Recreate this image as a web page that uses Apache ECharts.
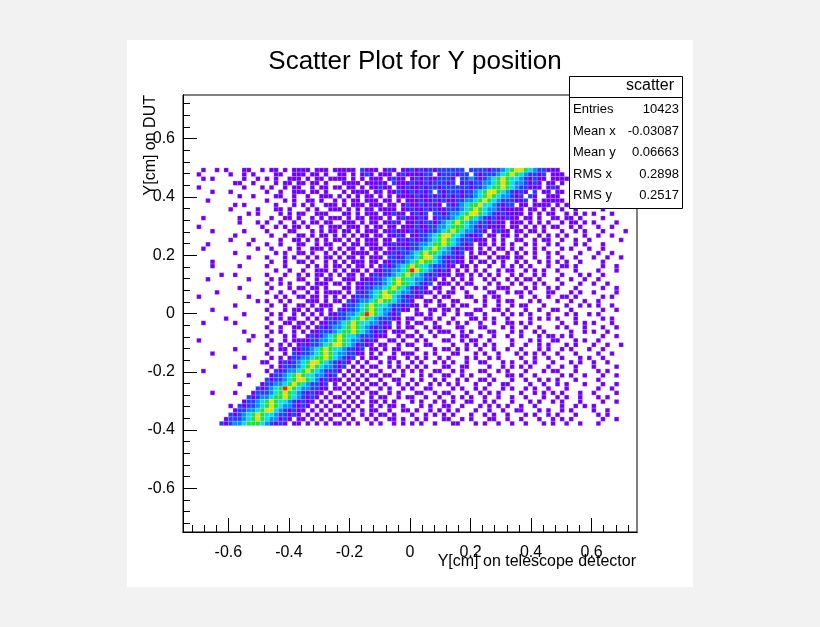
<!DOCTYPE html>
<html>
<head>
<meta charset="utf-8">
<script src="https://cdn.jsdelivr.net/npm/echarts@6/dist/echarts.min.js"></script>
<style>
  html, body { margin: 0; padding: 0; background: #f2f2f2; }
  #main { width: 820px; height: 627px; }
</style>
</head>
<body>
<div id="main"></div>
<script>
// 2D histogram, bin width 0.015; rows run from y=0.5 (top) down, columns from x=-0.72
// '.' / '0' = empty, 1..7 = count level
const binSize = 0.015;
const xStart = -0.72;
const yTop = 0.5;
// background counts, one string per row (spaces only for reading)
const bgRows = [
  "..1..1.1 ...11..1 .11.1.11 11.111.1 1111.211 1.121.11 21212122 2222.222 1212.211 2.111..1 1....... ........",
  ".1...... 1..1.1.. ..11..11 1.11.1.. 11.1.121 .111.121 11122.12 22122.22 1.11.221 1.1.21.1 11...... ........",
  "..1.1... ...1..1. 1.1..111 .1.11.11 11.1.1.1 11.1211. 12121122 21.22321 2..11.21 1..1.1.1 111..... ........",
  "........ .11..1.. ..1.11.1 1.11.1.. .1111.11 111.2111 21121222 12.12222 21..11.1 2.1.1.11 .1...... ........",
  ".1...... ...1...1 .1..1.11 ..1.11.1 1.11.1.1 1211.112 11212212 2222.232 1.12.1.1 21.11.12 1....... ........",
  "....1... 1....... 1..1..11 1.11.1.. .1.1111. 11.11211 21212.21 22221221 .1.11.2. 12.2.11. 11...... ........",
  "........ ..1..1.. ..11..1. .1..111. 1.1.1.11 .1.1.111 12112121 212122.1 1..12.21 2.21..11 1....... ........",
  "...1.... ........ 1...1.1. .11.1..1 .1.11.11 1.11.1.1 11211212 1212.211 2.1..211 12.1.111 11...... ........",
  "........ .1.1.... ..1...1. 1.1..111 .1.111.1 11.11.12 1121211. 12.2.221 .2.1112. 11.1111. 1.1..... ........",
  "........ 1.....1. ..11.1.. .1.1..11 1.1.1.11 .1111.11 21121212 2..22121 3.21.211 1.11.1.1 .1..1... ..1.....",
  "........ ....1.1. ...1.1.1 1..111.. .11.1.11 1.11211. 1212.212 22.2.1.1 12.21111 1.1.1.11 ..1.1.1. 1...1...",
  "..1..... ..1..... .1..11.1 ..1.1.11 1.1.11.1 11.1.121 1121.122 21.1.2.1 2.211211 .11.1..1 1.11.1.. ..1.....",
  "........ ..1...1. 1..1..1. 1.11.11. .111.1.1 1.1121.1 12121222 1.1.2.21 1.211.11 1.1.1.1. .1.11.1. 1....1..",
  ".1...... .......1 ..1.1.11 .1..1.11 1.111.1. 11.11.11 12121212 2.11.2.1 21111.11 .1.1.1.1 1..1.1.. .1..1...",
  "....1... ...1.... 1....11. ..1.1.11 .11.1.11 1.112111 2121212. .1.12.21 1.1211.1 1.11.1.. .1..1.1. ..1....1",
  "........ .1...... .1..1..1 1.1.11.1 .1.1.11. 11.1121. 1211212. 2.1.2111 .11.11.1 .1..1.1. 1.1...1. .1..1...",
  "........ 1....1.. ...1..11 .1.1.1.1 1.1.1.11 1.11.121 2122121. .2.11.11 1.1.1..1 1..1.11. .1..1..1 ......1.",
  "...1.... ....1... 1..1...1 1..1.11. .1.11.11 1.112112 121.2.12 2111.1.1 1.1.1.1. .1.1..1. 1...1.1. ..1.....",
  "..1..... ......1. .1...1.1 ..111.1. 1.11.1.1 11.11212 2.12.1.2 2111.1.1 .1.11.1. 1..1.1.. .1.1...1 ..1.....",
  "........ .1...... ..1.1..1 1.1..1.1 .1.1111. 1.11212. 2.1.2.12 1.11.1.1 1.1..1.1 .1.1..1. 1....1.. .1..1...",
  "........ ....1... 1...1.1. .1.1.11. 1.11.1.1 11.21212 1.21.1.2 11.1.11. .1.111.1 1..1..1. .1..1... 1..1..1.",
  "....1... ........ .1..1..1 1.1..1.1 .1.111.1 1.1.1121 2.1121.2 1.11.1.1 1.1.1..1 .1..1.1. 1.1..1.. ..1.....",
  "....1... ..1..... 1...1... .1.1.1.1 1.1.11.1 .11.1212 21.21.21 .1.11.1. .1..1.1. 1.1...1. .11.1... ..1..1..",
  "........ ........ ..1..1.. 1..111.1 .1.11.1. 1.121212 12.212.1 1.1.1.1. 1..1.11. .1.1.1.. 1...1... .1...1..",
  "......1. .1...... 1...1..1 .1.11.1. 1.11.1.1 12121112 2.1.21.1 1.11.1.1 .1.1..1. 1..1.1.. .1...1.1 ..1.....",
  "...1.... ....1... .1.1...1 1..1.11. .111.112 1212.121 2.1121.1 .1.1.1.. 1.1..1.1 .11.1... 1..1..1. .1......",
  "........ ........ 1..1.1.. .1.111.1 1.1.1121 22.21.21 2.1.2.11 1.1.11.. .1.1..1. 1..1.1.. .1...1.. 1..1....",
  "........ ..1..... .1...1.1 1.11.1.. .11.1.12 2.121.12 11.1.11. .1.1..1. 1..111.. .1.1..1. 1...1... ..1..1..",
  ".....1.. ........ 1..1..1. .1.1.111 1.1.1121 12.2.121 1..11.1. 11..1... .11..1.1 1.1...11 ...1.1.. 1....1..",
  ".1...... ....1... ..1.1..1 1.11.1.1 .1.1.12. 1.2.1221 .11..1.1 1...11.. 1.11.... 1..1..1. .11.1... ..1.1...",
  "........ ......1. 1..1.1.. .111.1.1 1.1.1121 1.21.21. 1..11.1. .11...1. 1..1.11. ..1.1... 1..1..1. .1......",
  "........ .1...... .1..1..1 1.1.111. .11.2.12 1.121.1. 11.1..11 .1.11... 1..1..1. 11...1.. ..1..1.1 .1..1...",
  "....1... ........ 1...1.11 .1.11.1. 121.1212 2.1.2.11 .1..11.1 1.1...11 ..11.1.. .1..1..1 1..1.... ..1..1..",
  "........ ...1.... .1.1..1. 1.1.1.12 11.21.21 1.1.11.. .11.1..1 ..1.11.. 1...1.1. 1.1...1. ..1.1..1 .1......",
  ".......1 ........ 1..1.11. .1.1.112 12.12.21 21.1.1.1 1..11.1. .1...11. 1.1..1.. ..1.1.1. 1...1... ..1.1...",
  "..1..... .1...... .1..11.1 1.1.1121 2.121.12 11.1.1.1 .11..1.. 1.1.1..1 ..1..11. 1.1..... .1..1.1. 1...1...",
  "........ ........ 1..1..11 .1.1.122 1.21.121 1.11.1.1 1..1.11. ..11...1 1...1.1. .1..1... 1.1...1. ..1..1..",
  "........ ...1.... .1.1..1. 1.1.1121 12.21.21 1.1.111. .1..1.11 1..1.1.. .11...1. 1..1.1.. ...1..1. 1..1....",
  "........ .....1.. 1...1.1. .1.11212 1.2.1211 .11..1.1 1.1..1.. .1.11..1 ..1..1.. 1...1.11 .1.1.... ..1..1..",
  ".1...... ....1... .1..1.11 1.1.2.21 1.2.2111 1..11.1. .1.1...1 1..1.11. .1....1. ..1.1..1 1...1.1. .1......",
  "........ ........ 1..1.1.1 .1.12121 1.21.111 .11..1.1 1..11... .1..1.1. 1.1...1. .1..1.1. ..1.1... 1..1..1.",
  "........ .1...... .1.11.1. 1.121.12 2.11.1.1 1.1.11.. .1...1.1 1.1.1..1 ..1..1.. 1...1.1. .1.1...1 ..1.....",
  "....1... ........ 1...1.11 .11.2.12 211.11.1 .1..1.11 1..1.1.. .11...1. 1..1...1 .1.1.1.. 1...1... .1..1...",
  "........ ...1.... .1.1.1.1 12.12.21 11.1.1.1 1..11..1 .1.1..1. 1...1.1. .1.1.... 1..1..1. .1...1.1 ..1.....",
  "........ .......1 1..1.112 1.21.121 1.1.1.1. .1.1.1.. 1.1..1.1 .1..1..1 1...1.1. .1.1...1 ...1.1.. 1..1....",
  "........ .1...... .1..1..1 2.121.21 .1.1.1.1 1..1.1.1 .1.1...1 1..11... .1..1.1. 1.1...1. .1..1... 1....1..",
  "..1..... ........ 1..1..12 1.21.211 1.1.1.1. .1..1.1. 1.1..11. .1.1...1 1..1.1.. .1...1.1 1...1... .1.1....",
  "........ ....1... .1.1.1.1 2.1.2111 .1.1.1.1 1.11..1. ..1.1..1 1..1.1.. .1...11. 1..1.... .1.1..1. ..1..1..",
  "........ ........ 1..1.121 1.21.1.1 1.1.1.1. .1..11.. 1.1..1.1 ..1.1..1 1.1...1. .1..1.1. 1...1... .1......",
  "........ ..1..... .1.1.2.1 1211.1.1 .1.1.1.1 1.1..1.1 .1..1.1. 1.1...1. .1..11.. ..1..1.. 1.1...1. ..1..1..",
  "........ ........ 1.1.1.12 2111.1.1 1.1.1.1. .1.1..1. 1..11... .1.1..1. 1...1.1. .1.1..1. ..1..... .1..1...",
  "....1... .1...... 1..1..11 1.1.1.1. .1.1.1.1 1..1.1.. .11..1.1 1...1..1 .1.1.... 1..1.1.1 .1...1.. 1....1..",
  "........ ........ ...1.1.1 .1.1.1.1 1.1.1..1 .11..1.1 1..1..1. .1.1.1.. 1..1..1. .1...1.. 1.1..1.. .1.1....",
  "........ ...1.... 1..11.11 1.1.1.1. .1.1.1.1 1.1.1... 1.1..1.1 .1..11.. 1.1...1. ..1.1..1 .1...1.. ..1..1..",
  "........ 1....... .1.1.111 .1.1.1.1 1.1.1..1 .1.11.1. ..1.1..1 1..1...1 .1.1.1.. 1..1.... .1..1.1. 1.......",
  "........ ........ 1.1.1.11 1.1.1.1. .1.1.1.1 1..1..11 .1..1.1. 1.1...1. .1..1..1 1...1.1. .1.1.... 1..1....",
  "........ ........ 1.111.11 .1.1.1.1 1.1..1.1 .11.1... 1..1.1.1 .1...1.. 1.1..1.. .1.1..1. 1...1... .1.1....",
  "........ ........ .2.1.1.1 1.1.1.1. .1.1..1. 1..11.1. .1.1...1 1..1.1.. .11..1.. 1...1..1 .1.1.... ..1..1..",
  "........ ........ 1.1.1.11 .1.1.1.1 1.1.1..1 .1..1.1. 1.1..1.. .11...1. 1..1..1. .1...1.1 ..1..1.. .1......"
];
// dense diagonal band: 15 bins per row starting at bandStart[row]
const bandStart = [64, 63, 62, 61, 60, 59, 58, 57, 56, 55, 54, 53, 52, 51, 50, 49, 48, 47, 46, 45,
  44, 43, 42, 41, 40, 39, 38, 37, 36, 35, 34, 33, 32, 31, 30, 29, 28, 27, 26, 25,
  24, 23, 22, 21, 20, 19, 18, 17, 16, 15, 14, 13, 12, 11, 10, 9, 8, 7, 6];
const bandRows = [
  "212234566543221", "122234565432212", "212345654432121", "122334565433212", "212234556543221",
  "122345665432121", "212234565433212", "122334565432221", "212345564432122", "122234565433211",
  "212334566543212", "122234565432121", "212345654332212", "122334555432121", "212234565433221",
  "122345664432112", "212234565432221", "122334556543212", "212234565432121", "122345655433212",
  "212334566432121", "122234565543212", "212345654432221", "122334576543212", "212234565432121",
  "122345654433221", "212234565543212", "122334565432121", "212345655433212", "122234566432121",
  "212334565543221", "122345654432212", "212234565433121", "122334576543212", "212234565432221",
  "122345654433212", "212334565432121", "122234556543212", "212345654432221", "122334565433212",
  "212234566543121", "122345654432212", "212234565433221", "122334556543212", "212345665432121",
  "122234565433212", "212334565432221", "122345654433212", "212234566543121", "122334565432212",
  "212345765433221", "122234565432121", "212334556543212", "122345654432121", "212234565433212",
  "122334566432121", "212345654432212", "122234565433121", "212334555432121"
];
const levelColors = ['#6e00ff', '#1f40ff', '#0090ff', '#00e0e8', '#20e040', '#e0e000', '#ff2000'];
const majorTicks = [-0.6, -0.4, -0.2, 0, 0.2, 0.4, 0.6];
const minorTicks = [-0.72, -0.68, -0.64, -0.56, -0.52, -0.48, -0.44, -0.36, -0.32, -0.28, -0.24,
  -0.16, -0.12, -0.08, -0.04, 0.04, 0.08, 0.12, 0.16, 0.24, 0.28, 0.32, 0.36, 0.44, 0.48, 0.52, 0.56, 0.64, 0.68, 0.72];
const statLabels = ['Entries', 'Mean x', 'Mean y', 'RMS x', 'RMS y'];
const statValues = ['10423', '-0.03087', '0.06663', '0.2898', '0.2517'];

const cells = [];
bgRows.forEach((row, r) => {
  const bins = row.replace(/ /g, '').split('');
  bandRows[r].split('').forEach((ch, i) => { if (ch !== '0') bins[bandStart[r] + i] = ch; });
  bins.forEach((ch, c) => {
    if (ch !== '.' && ch !== '0' && ch !== undefined) cells.push([xStart + c * binSize, yTop - (r + 1) * binSize, +ch]);
  });
});

const myChart = echarts.init(document.getElementById('main'));
const fmt = v => (v === 0 ? '0' : String(+v.toFixed(1)));
const axisFont = { fontFamily: 'Liberation Sans', fontSize: 16, color: '#000' };
const mkAxis = (extra) => Object.assign({
  type: 'value', min: -0.75, max: 0.75,
  axisLine: { show: true, onZero: false, lineStyle: { color: '#000', width: 1 } },
  splitLine: { show: false }
}, extra);

const stats = [];
statLabels.forEach((l, i) => {
  const y = 111 + i * 21.5;
  stats.push({ type: 'text', left: 573, top: y - 8, style: { text: l, font: '13px Liberation Sans', fill: '#000' } });
  stats.push({ type: 'text', right: 141, top: y - 8, style: { text: statValues[i], font: '13px Liberation Sans', fill: '#000', textAlign: 'right' } });
});

myChart.setOption({
  backgroundColor: '#f2f2f2',
  animation: false,
  title: {
    text: 'Scatter Plot for Y position', left: 410, top: 44, textAlign: 'center',
    textStyle: { fontFamily: 'Liberation Sans', fontSize: 26, fontWeight: 'normal', color: '#000' }
  },
  grid: { left: 183, right: 183, top: 95, bottom: 95 },
  xAxis: [
    mkAxis({
      position: 'bottom',
      axisTick: { show: true, inside: true, length: 14, customValues: majorTicks },
      axisLabel: Object.assign({ customValues: majorTicks, formatter: fmt, margin: 13 }, axisFont)
    }),
    mkAxis({
      position: 'bottom',
      axisTick: { show: true, inside: true, length: 7, customValues: minorTicks },
      axisLabel: { show: false }
    })
  ],
  yAxis: [
    mkAxis({
      position: 'left',
      axisTick: { show: true, inside: true, length: 14, customValues: majorTicks },
      axisLabel: Object.assign({ customValues: majorTicks, formatter: fmt, margin: 8 }, axisFont)
    }),
    mkAxis({
      position: 'left',
      axisTick: { show: true, inside: true, length: 7, customValues: minorTicks },
      axisLabel: { show: false }
    })
  ],
  visualMap: {
    show: false, type: 'piecewise', dimension: 2, seriesIndex: 0,
    pieces: levelColors.map((c, i) => ({ value: i + 1, color: c }))
  },
  graphic: [
    { type: 'rect', z: -10, shape: { x: 127, y: 40, width: 566, height: 547 }, style: { fill: '#fff' } },
    { type: 'rect', z: 5, shape: { x: 183, y: 95, width: 454, height: 437 }, style: { fill: 'none', stroke: '#000', lineWidth: 1 } },
    { type: 'text', z: 5, x: 636, y: 554, style: { text: 'Y[cm] on telescope detector', font: '16px Liberation Sans', fill: '#000', textAlign: 'right', textVerticalAlign: 'top' } },
    { type: 'text', z: 5, x: 151, y: 95, rotation: Math.PI / 2, style: { text: 'Y[cm] on DUT', font: '16px Liberation Sans', fill: '#000', textAlign: 'right', textVerticalAlign: 'middle' } },
    { type: 'rect', z: 10, shape: { x: 569.5, y: 76.5, width: 113, height: 132 }, style: { fill: '#fff', stroke: '#000', lineWidth: 1 } },
    { type: 'line', z: 10, shape: { x1: 569.5, y1: 97.5, x2: 682.5, y2: 97.5 }, style: { stroke: '#000', lineWidth: 1 } },
    { type: 'text', z: 11, left: 626, top: 78, style: { text: 'scatter', font: '16px Liberation Sans', fill: '#000', textAlign: 'center' } }
  ].concat(stats.map(s => Object.assign({ z: 11 }, s))),
  series: [{
    type: 'custom',
    data: cells,
    renderItem: (params, api) => {
      const x0 = api.value(0), y0 = api.value(1);
      const p1 = api.coord([x0, y0 + binSize]);
      const p2 = api.coord([x0 + binSize, y0]);
      return {
        type: 'rect',
        shape: { x: p1[0], y: p1[1], width: p2[0] - p1[0], height: p2[1] - p1[1] },
        style: { fill: api.visual('color'), stroke: 'rgba(255,255,255,0.35)', lineWidth: 0.5 }
      };
    }
  }]
});
</script>
</body>
</html>
